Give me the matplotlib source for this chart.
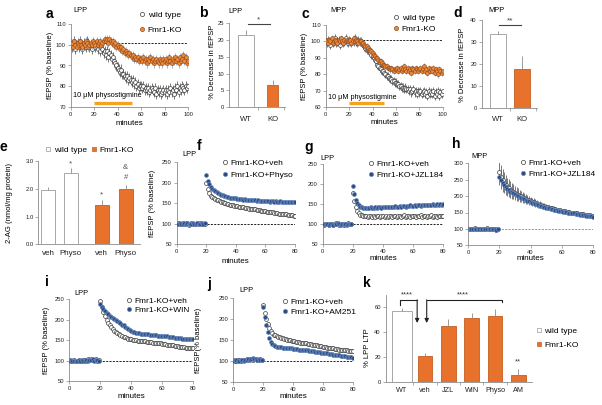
import numpy as np
import matplotlib
matplotlib.use('Agg')
import matplotlib.pyplot as plt
from matplotlib.lines import Line2D

plt.rcParams['font.family'] = ['Liberation Sans', 'DejaVu Sans']

# ---------------- data ----------------
# a: LPP, physostigmine wash-in (% baseline), 1 point per minute 0..100
wt_a = [101, 99, 100, 102, 98, 100, 101, 99, 102, 100,
        98, 101, 100, 99, 102, 101, 99, 100, 98, 101,
        100, 99, 101, 98, 100, 97, 99, 98, 96, 97,
        95, 97, 94, 96, 95, 93, 94, 92, 91, 90,
        89, 88, 87, 88, 86, 86, 85, 84, 85, 83,
        84, 83, 82, 83, 81, 82, 80, 81, 79, 80,
        80, 79, 80, 78, 79, 78, 79, 77, 78, 79,
        78, 77, 79, 76, 78, 77, 78, 76, 77, 78,
        77, 78, 76, 78, 77, 79, 77, 78, 76, 79,
        78, 80, 77, 79, 78, 80, 79, 78, 80, 79,
        80]
ko_a = [100, 101, 99, 102, 100, 99, 101, 100, 102, 100,
        99, 101, 100, 102, 101, 99, 100, 101, 100, 102,
        101, 100, 102, 100, 101, 102, 100, 101, 102, 103,
        102, 103, 101, 103, 102, 101, 102, 100, 101, 99,
        100, 99, 98, 99, 97, 98, 96, 97, 96, 95,
        96, 95, 94, 95, 93, 94, 93, 94, 92, 93,
        93, 92, 94, 92, 93, 91, 93, 92, 94, 92,
        93, 91, 92, 93, 92, 91, 93, 92, 91, 93,
        92, 93, 91, 92, 94, 92, 91, 93, 92, 94,
        92, 93, 91, 94, 92, 93, 95, 92, 94, 91,
        92]
# c: MPP
wt_c = [100, 99, 101, 100, 98, 101, 99, 100, 102, 99,
        100, 101, 98, 100, 101, 99, 100, 102, 100, 99,
        101, 100, 99, 101, 100, 102, 100, 99, 101, 100,
        100, 99, 98, 97, 96, 95, 95, 94, 93, 92,
        91, 90, 89, 88, 86, 85, 84, 83, 82, 82,
        81, 80, 79, 79, 78, 77, 77, 76, 76, 75,
        75, 74, 74, 73, 73, 72, 72, 71, 72, 71,
        71, 70, 71, 69, 70, 71, 69, 70, 68, 70,
        69, 70, 68, 69, 70, 68, 69, 67, 70, 68,
        69, 68, 70, 67, 69, 68, 70, 67, 69, 68,
        70]
ko_c = [101, 100, 99, 101, 100, 102, 99, 100, 101, 100,
        99, 101, 100, 102, 100, 99, 101, 100, 101, 100,
        100, 101, 99, 100, 102, 100, 101, 100, 99, 100,
        100, 99, 99, 98, 97, 97, 96, 95, 95, 94,
        93, 92, 91, 90, 90, 89, 88, 88, 87, 86,
        86, 85, 85, 84, 84, 83, 84, 83, 82, 83,
        83, 84, 82, 83, 84, 82, 83, 85, 83, 82,
        84, 82, 83, 81, 84, 83, 82, 84, 83, 82,
        83, 84, 82, 83, 85, 82, 83, 81, 84, 82,
        83, 82, 84, 81, 83, 82, 80, 83, 82, 81,
        82]

# b, d: % decrease in fEPSP
dec_groups = ['WT', 'KO']
dec_lpp = [21.5, 6.5]
dec_lpp_err = [1.5, 1.6]
dec_mpp = [33.5, 17.8]
dec_mpp_err = [1.7, 6.0]

# e: 2-AG levels
ag_groups = ['veh', 'Physo', 'veh', 'Physo']
ag_vals = [1.97, 2.58, 1.43, 2.00]
ag_err = [0.10, 0.15, 0.15, 0.14]

# f-j: LTP time courses, 1 point per minute 0..80
f_veh = [100, 101, 99, 100, 102, 99, 100, 101, 98, 100,
         101, 99, 100, 100, 102, 99, 101, 100, 99, 100,
         200, 185, 175, 168, 165, 162, 160, 158, 157, 155,
         154, 153, 151, 150, 149, 148, 147, 146, 145, 144,
         143, 143, 142, 141, 140, 140, 139, 138, 138, 137,
         137, 136, 135, 135, 134, 133, 133, 132, 132, 131,
         131, 130, 130, 129, 128, 128, 127, 127, 126, 125,
         125, 124, 124, 123, 123, 122, 122, 121, 121, 120,
         120]
f_physo = [99, 100, 101, 100, 99, 101, 100, 102, 100, 99,
           100, 101, 99, 100, 101, 100, 99, 101, 100, 101,
           218, 205, 196, 190, 186, 183, 180, 178, 175, 173,
           171, 170, 168, 167, 166, 165, 164, 163, 163, 162,
           162, 161, 161, 160, 160, 159, 160, 159, 158, 158,
           158, 157, 158, 157, 156, 157, 156, 156, 155, 156,
           155, 156, 155, 154, 155, 155, 154, 155, 154, 154,
           155, 154, 153, 154, 154, 153, 154, 153, 154, 153,
           153]
g_veh = [100, 99, 101, 100, 98, 100, 101, 99, 100, 102,
         100, 99, 101, 100, 99, 101, 100, 102, 100, 101,
         178, 158, 142, 133, 127, 124, 122, 121, 120, 121,
         119, 120, 121, 119, 120, 118, 120, 121, 119, 120,
         121, 119, 120, 118, 121, 120, 119, 121, 120, 118,
         120, 121, 119, 120, 122, 119, 120, 121, 119, 120,
         121, 120, 119, 121, 120, 122, 119, 121, 120, 119,
         121, 120, 122, 119, 121, 120, 119, 121, 120, 121,
         120]
g_jzl = [99, 100, 101, 100, 99, 101, 100, 99, 101, 100,
         102, 100, 99, 101, 100, 101, 99, 100, 101, 100,
         195, 175, 160, 152, 147, 144, 142, 141, 140, 140,
         141, 140, 142, 141, 140, 142, 141, 143, 142, 141,
         142, 143, 142, 144, 143, 142, 144, 143, 145, 144,
         143, 145, 144, 146, 145, 144, 146, 145, 147, 146,
         145, 147, 146, 148, 147, 146, 148, 147, 149, 148,
         147, 149, 148, 150, 149, 148, 150, 149, 150, 149,
         150]
h_veh = [100, 101, 99, 100, 102, 100, 99, 101, 100, 99,
         101, 100, 102, 99, 100, 101, 99, 100, 98, 100,
         272, 258, 248, 240, 234, 228, 224, 220, 216, 213,
         210, 207, 204, 201, 199, 196, 194, 191, 189, 187,
         185, 183, 181, 179, 177, 175, 174, 172, 171, 169,
         168, 166, 165, 164, 163, 162, 160, 159, 158, 157,
         156, 155, 154, 153, 152, 151, 150, 150, 149, 148,
         147, 146, 146, 145, 144, 143, 143, 142, 141, 140,
         139]
h_veh_sem = [2, 2, 2, 2, 2, 2, 2, 2, 2, 2, 2, 2, 2, 2, 2, 2, 2, 2, 2, 2,
             38, 36, 34, 32, 30, 28, 27, 25, 24, 23, 22, 21, 20, 19, 18, 17, 16, 15, 14, 13,
             13, 12, 12, 11, 11, 10, 10, 9, 9, 9, 8, 8, 8, 7, 7, 7, 7, 6, 6, 6,
             6, 6, 5, 5, 5, 5, 5, 5, 5, 5, 5, 4, 4, 4, 4, 4, 4, 4, 4, 4, 4]
h_jzl = [99, 100, 101, 100, 99, 100, 101, 100, 99, 101,
         100, 99, 100, 101, 100, 99, 100, 101, 97, 99,
         258, 248, 240, 233, 228, 223, 218, 214, 211, 208,
         205, 202, 199, 197, 195, 193, 190, 188, 186, 184,
         182, 180, 178, 176, 175, 173, 171, 170, 168, 167,
         165, 164, 163, 161, 160, 159, 158, 157, 156, 155,
         154, 153, 152, 151, 150, 149, 148, 147, 147, 146,
         145, 144, 143, 143, 142, 141, 140, 139, 139, 138,
         136]
i_veh = [101, 100, 99, 102, 100, 98, 101, 100, 99, 101,
         102, 100, 103, 101, 104, 102, 101, 103, 100, 102,
         245, 230, 218, 208, 200, 193, 187, 182, 177, 173,
         170, 167, 164, 162, 160, 158, 157, 155, 154, 153,
         152, 151, 150, 150, 149, 149, 148, 148, 147, 147,
         146, 146, 145, 145, 144, 144, 143, 143, 142, 142,
         141, 141, 140, 139, 139, 138, 137, 137, 136, 135,
         135, 134, 134, 133, 133, 132, 132, 131, 131, 130,
         130]
i_win = [100, 101, 99, 100, 98, 100, 102, 99, 101, 100,
         99, 101, 100, 102, 101, 103, 100, 102, 101, 100,
         238, 232, 226, 221, 217, 213, 210, 207, 205, 202,
         200, 197, 194, 191, 188, 186, 183, 180, 178, 175,
         172, 170, 169, 168, 167, 167, 166, 165, 165, 164,
         164, 164, 163, 163, 162, 162, 162, 161, 161, 160,
         160, 160, 159, 159, 158, 158, 157, 157, 156, 156,
         156, 155, 155, 154, 154, 154, 153, 153, 152, 152,
         152]
j_veh = [101, 100, 99, 101, 102, 100, 101, 103, 102, 104,
         103, 105, 104, 103, 105, 104, 103, 102, 104, 103,
         235, 215, 200, 188, 178, 171, 166, 163, 161, 159,
         158, 156, 155, 154, 153, 152, 151, 150, 149, 148,
         148, 147, 146, 146, 145, 144, 144, 143, 142, 142,
         141, 140, 140, 139, 138, 138, 137, 136, 136, 135,
         134, 134, 133, 132, 132, 131, 130, 130, 129, 128,
         128, 127, 127, 126, 126, 125, 125, 124, 124, 124,
         123]
j_am = [100, 102, 101, 99, 100, 101, 102, 100, 103, 102,
        104, 103, 105, 106, 104, 105, 103, 104, 102, 103,
        228, 205, 185, 168, 155, 146, 140, 137, 135, 134,
        134, 133, 133, 132, 132, 131, 131, 130, 130, 130,
        129, 129, 128, 128, 127, 127, 127, 126, 126, 125,
        125, 124, 124, 123, 123, 122, 122, 121, 121, 120,
        120, 119, 118, 118, 117, 116, 116, 115, 114, 114,
        113, 113, 112, 112, 111, 111, 110, 110, 109, 109,
        108]

# k: % LPP LTP
ltp_groups = ['WT', 'veh', 'JZL', 'WIN', 'Physo', 'AM']
ltp_vals = [56.8, 20.5, 45.0, 51.8, 53.2, 5.5]
ltp_err = [3.0, 2.5, 6.0, 3.5, 5.5, 4.5]

# ---------------- style ----------------
W, H = 602, 405
ORANGE = '#E8722C'
ORANGE_EDGE = '#C25E22'
BAR_EDGE = '#9A9A9A'
AXIS_GRAY = '#8A8A8A'
NAVY = '#2B4A7E'
NAVY_EDGE = '#6C8DC4'
PHYSO_BAR = '#F6A21E'

fig = plt.figure(figsize=(W / 100, H / 100), dpi=100)


def add_ax(l, t, r, b):
    # axes box given in pixel coordinates (left, top, right, bottom)
    return fig.add_axes([l / W, 1 - b / H, (r - l) / W, (b - t) / H])


def ftext(x, y, s, **kw):
    fig.text(x / W, 1 - y / H, s, **kw)


def style(ax):
    for s in ['top', 'right']:
        ax.spines[s].set_visible(False)
    for s in ['left', 'bottom']:
        ax.spines[s].set_color(AXIS_GRAY)
        ax.spines[s].set_linewidth(0.6)
    ax.tick_params(length=2, width=0.5, color=AXIS_GRAY, labelsize=4.2,
                   pad=1.5, labelcolor='#222222')
    ax.patch.set_alpha(0)


def trace(ax, x, y, sem, kind, z):
    if kind == 'open':
        kw = dict(mfc='white', mec='#3C3C3C', ecolor='#444444')
    elif kind == 'navy':
        kw = dict(mfc=NAVY, mec=NAVY_EDGE, ecolor='#3A4A66')
    else:
        kw = dict(mfc='#EC8A3A', mec='#9A4E1E', ecolor='#7F96B8')
    ax.errorbar(x, y, yerr=sem, fmt='o', ms=2.8, mew=0.5, elinewidth=0.5,
                capsize=0, zorder=z, **kw)


def legend(ax, handles, labels, x, y, spacing, **kw):
    ax.legend(handles, labels, loc='upper left',
              bbox_to_anchor=(x / W, 1 - y / H), bbox_transform=fig.transFigure,
              frameon=False, fontsize=6, handlelength=0.7, handletextpad=0.3,
              labelspacing=spacing, borderpad=0, borderaxespad=0, **kw)


def h_open():
    return Line2D([], [], marker='o', ls='none', ms=3, mfc='white', mec='#3C3C3C', mew=0.5)


def h_navy():
    return Line2D([], [], marker='o', ls='none', ms=3, mfc=NAVY, mec=NAVY_EDGE, mew=0.5)


def h_orange():
    return Line2D([], [], marker='o', ls='none', ms=3, mfc='#EC8A3A', mec='#9A4E1E', mew=0.5)


def h_sq(color, edge):
    return Line2D([], [], marker='s', ls='none', ms=3.5, mfc=color, mec=edge, mew=0.5)


LETTER = dict(size=10, weight='bold', ha='center', va='center')
TITLE = dict(size=5.3, ha='center', va='center')
YLAB = dict(size=5.5, ha='center', va='center', rotation=90)
XLAB = dict(size=5.8, ha='center', va='center')

t100 = np.arange(len(wt_a))
t80 = np.arange(len(f_veh))

# ---------------- a ----------------
ax = add_ax(70.7, 24.3, 188, 106.7)
style(ax)
ax.plot([0, 100], [101, 101], 'k--', lw=0.6, dashes=(2.5, 1.5), zorder=1)
trace(ax, t100, wt_a, 2.5, 'open', 2)
trace(ax, t100, ko_a, 2.0, 'orange', 3)
ax.plot([20, 52], [72, 72], color=PHYSO_BAR, lw=2.3, solid_capstyle='butt', zorder=4)
ax.text(2, 75.2, '10 \u03bcM physostigmine', size=5.2, va='center', zorder=5)
ax.set_xlim(0, 100)
ax.set_ylim(70, 110)
ax.set_xticks([0, 20, 40, 60, 80, 100])
ax.set_yticks([70, 80, 90, 100, 110])
legend(ax, [h_open(), h_orange()], ['wild type', 'Fmr1-KO'], 139.5, 11.5, 0.8)
ftext(49, 14, 'a', **LETTER)
ftext(80.3, 11, 'LPP', **TITLE)
ftext(50, 65.5, 'fEPSP (% baseline)', **YLAB)
ftext(129.3, 123.3, 'minutes', **XLAB)

# ---------------- c ----------------
ax = add_ax(325.7, 25, 442.7, 107.3)
style(ax)
ax.plot([0, 100], [101, 101], 'k--', lw=0.6, dashes=(2.5, 1.5), zorder=1)
trace(ax, t100, wt_c, 2.5, 'open', 2)
trace(ax, t100, ko_c, 2.0, 'orange', 3)
ax.plot([20, 50], [62.5, 62.5], color=PHYSO_BAR, lw=2.3, solid_capstyle='butt', zorder=4)
ax.text(2, 66, '10 \u03bcM physostigmine', size=5.2, va='center', zorder=5)
ax.set_xlim(0, 100)
ax.set_ylim(60, 110)
ax.set_xticks([0, 20, 40, 60, 80, 100])
ax.set_yticks([60, 70, 80, 90, 100, 110])
legend(ax, [h_open(), h_orange()], ['wild type', 'Fmr1-KO'], 393.5, 14.5, 0.37)
ftext(305, 13.7, 'c', **LETTER)
ftext(338.3, 11, 'MPP', **TITLE)
ftext(304, 66, 'fEPSP (% baseline)', **YLAB)
ftext(384, 122.7, 'minutes', **XLAB)


def bar_panel(ax, vals, errs, colors, edges, widths, labels, lab_size, minor):
    pos = np.arange(len(vals))
    ax.bar(pos, vals, width=widths, color=colors, edgecolor=edges,
           linewidth=0.6, zorder=2)
    ax.errorbar(pos, vals, yerr=[[0] * len(vals), errs], fmt='none',
                ecolor='#8A8A8A', elinewidth=0.6, capsize=0, zorder=3)
    ax.set_xticks(pos)
    ax.set_xticklabels(labels, size=lab_size)
    ax.tick_params(axis='x', length=0, pad=6)
    ax.set_xticks(minor, minor=True)
    ax.tick_params(axis='x', which='minor', length=2, width=0.5, color=AXIS_GRAY)
    return pos


# ---------------- b ----------------
ax = add_ax(229, 23.3, 285, 107.3)
style(ax)
bar_panel(ax, dec_lpp, dec_lpp_err, ['white', ORANGE], [BAR_EDGE, ORANGE_EDGE],
          [0.6, 0.43], dec_groups, 5.5, [0.47, 1.44])
ax.set_xlim(-0.623, 1.466)
ax.set_ylim(0, 25)
ax.set_yticks([0, 5, 10, 15, 20, 25])
ax.plot([0.075, 0.907], [24.8, 24.8], color='#444444', lw=0.8, clip_on=False)
ax.text(0.49, 26.0, '*', size=6, ha='center', va='center', color='#444444')
ftext(203, 13, 'b', **LETTER)
ftext(235.7, 11.7, 'LPP', **TITLE)
ftext(213, 62, '% Decrease in fEPSP', **YLAB)

# ---------------- d ----------------
ax = add_ax(481.7, 20, 536.7, 107.7)
style(ax)
bar_panel(ax, dec_mpp, dec_mpp_err, ['white', ORANGE], [BAR_EDGE, ORANGE_EDGE],
          [0.65, 0.66], dec_groups, 5.5, [0.5, 1.57])
ax.set_xlim(-0.665, 1.607)
ax.set_ylim(0, 40)
ax.set_yticks([0, 10, 20, 30, 40])
ax.plot([0.05, 0.96], [37.8, 37.8], color='#444444', lw=0.8, clip_on=False)
ax.text(0.5, 39.8, '**', size=6, ha='center', va='center', color='#444444')
ftext(458, 13.3, 'd', **LETTER)
ftext(496.5, 10, 'MPP', **TITLE)
ftext(463, 65, '% Decrease in fEPSP', **YLAB)

# ---------------- e ----------------
ax = add_ax(38.3, 161, 140, 244.3)
style(ax)
e_pos = np.array([0, 0.97, 2.32, 3.37])
ax.bar(e_pos, ag_vals, width=0.61, color=['white', 'white', ORANGE, ORANGE],
       edgecolor=[BAR_EDGE, BAR_EDGE, ORANGE_EDGE, ORANGE_EDGE], linewidth=0.6, zorder=2)
ax.errorbar(e_pos, ag_vals, yerr=[[0] * 4, ag_err], fmt='none', ecolor='#8A8A8A',
            elinewidth=0.6, capsize=0, zorder=3)
ax.set_xticks(e_pos)
ax.set_xticklabels(ag_groups, size=5.8)
ax.tick_params(axis='x', length=0, pad=4)
ax.set_xlim(-0.435, 3.99)
ax.set_ylim(0, 3.0)
ax.set_yticks([0, 1, 2, 3])
ax.set_yticklabels(['0.0', '1.0', '2.0', '3.0'])
ax.text(e_pos[1], ag_vals[1] + ag_err[1] + 0.17, '*', size=6, ha='center', va='center',
        color='#555555', clip_on=False)
ax.text(e_pos[2], ag_vals[2] + ag_err[2] + 0.2, '*', size=6, ha='center', va='center',
        color='#555555')
ax.text(e_pos[3], ag_vals[3] + ag_err[3] + 0.25, '#', size=5.5, ha='center', va='center',
        color='#555555')
ax.text(e_pos[3], ag_vals[3] + ag_err[3] + 0.63, '&', size=5.5, ha='center', va='center',
        color='#555555')
ax.legend([h_sq('white', BAR_EDGE), h_sq(ORANGE, ORANGE_EDGE)], ['wild type', 'Fmr1-KO'],
          loc='upper left', bbox_to_anchor=(45.2 / W, 1 - 146.5 / H),
          bbox_transform=fig.transFigure, frameon=False, fontsize=6, handlelength=0.7,
          handletextpad=0.3, ncol=2, columnspacing=0.5, borderpad=0, borderaxespad=0)
ftext(3.5, 146.7, 'e', **LETTER)
ftext(10, 203, '2-AG (nmol/mg protein)', **YLAB)


def ltp_panel(box, veh, drug, veh_sem, drug_sem, ytop, yticks, dash_color):
    ax = add_ax(*box)
    style(ax)
    ax.plot([0, 80], [100, 100], '--', color=dash_color, lw=0.6, dashes=(2.5, 1.5), zorder=1)
    trace(ax, t80, veh, veh_sem, 'open', 2)
    trace(ax, t80, drug, drug_sem, 'navy', 3)
    ax.set_xlim(0, 80)
    ax.set_ylim(50, ytop)
    ax.set_xticks([0, 20, 40, 60, 80])
    ax.set_yticks(yticks)
    return ax


LTP_TICKS = [50, 100, 150, 200, 250]

# ---------------- f ----------------
ax = ltp_panel((176.7, 162.3, 295, 244.3), f_veh, f_physo, 2.5, 2.5, 250, LTP_TICKS, 'k')
legend(ax, [h_open(), h_navy()], ['Fmr1-KO+veh', 'Fmr1-KO+Physo'], 221.9, 159.5, 0.44)
ftext(199, 146, 'f', **LETTER)
ftext(189, 155, 'LPP', **TITLE)
ftext(152, 203, 'fEPSP (% baseline)', **YLAB)
ftext(235.8, 261.7, 'minutes', **XLAB)

# ---------------- g ----------------
ax = ltp_panel((322.7, 164, 443.3, 244.3), g_veh, g_jzl, 5, 5, 250, LTP_TICKS, 'k')
legend(ax, [h_open(), h_navy()], ['Fmr1-KO+veh', 'Fmr1-KO+JZL184'], 368.3, 160.5, 0.35)
ftext(309, 146.7, 'g', **LETTER)
ftext(327, 158.3, 'LPP', **TITLE)
ftext(383, 258.3, 'minutes', **XLAB)

# ---------------- h ----------------
ax = ltp_panel((468.3, 163.3, 592.7, 245.3), h_veh, h_jzl, h_veh_sem, 4, 300,
               [50, 100, 150, 200, 250, 300], '#888888')
legend(ax, [h_open(), h_navy()], ['Fmr1-KO+veh', 'Fmr1-KO+JZL184'], 519.9, 159.5, 0.29)
ftext(456.7, 144, 'h', **LETTER)
ftext(480, 156.7, 'MPP', **TITLE)
ftext(530.5, 259, 'minutes', **XLAB)

# ---------------- i ----------------
ax = ltp_panel((69.3, 299.3, 193.3, 381), i_veh, i_win, 3.5, 3, 250, LTP_TICKS, 'k')
legend(ax, [h_open(), h_navy()], ['Fmr1-KO+veh', 'Fmr1-KO+WIN'], 125.9, 297, 0.17)
ftext(46.7, 282, 'i', **LETTER)
ftext(81.7, 293.3, 'LPP', **TITLE)
ftext(46.7, 340, 'fEPSP (% baseline)', **YLAB)
ftext(131.3, 396, 'minutes', **XLAB)

# ---------------- j ----------------
ax = ltp_panel((233.3, 298.3, 352.7, 381.7), j_veh, j_am, 3, 3, 250, LTP_TICKS, 'k')
legend(ax, [h_open(), h_navy()], ['Fmr1-KO+veh', 'Fmr1-KO+AM251'], 281.6, 297.8, 0.29)
ftext(209, 284, 'j', **LETTER)
ftext(246.7, 290, 'LPP', **TITLE)
ftext(198, 340, 'fEPSP(% baseline)', **YLAB)
ftext(293, 396, 'minutes', **XLAB)

# ---------------- k ----------------
ax = add_ax(385.7, 295, 531.7, 381.7)
style(ax)
k_pos = np.arange(len(ltp_vals))
k_colors = ['white'] + [ORANGE] * 5
k_edges = [BAR_EDGE] + [ORANGE_EDGE] * 5
k_widths = [0.86, 0.63, 0.63, 0.63, 0.63, 0.63]
ax.bar(k_pos, ltp_vals, width=k_widths, color=k_colors, edgecolor=k_edges,
       linewidth=0.6, zorder=2)
ax.errorbar(k_pos, ltp_vals, yerr=[[0] * 6, ltp_err], fmt='none', ecolor='#8A8A8A',
            elinewidth=0.6, capsize=0, zorder=3)
ax.set_xticks(k_pos)
ax.set_xticklabels(ltp_groups, size=5.2)
ax.tick_params(axis='x', length=0, pad=3.5)
ax.set_xticks(k_pos[:-1] + 0.5, minor=True)
ax.tick_params(axis='x', which='minor', length=2, width=0.5, color=AXIS_GRAY)
ax.set_xlim(-0.69, 5.575)
ax.set_ylim(0, 70)
ax.set_yticks([0, 20, 40, 60])
BR = '#222222'
# significance brackets with arrows pointing at the veh bar
ax.plot([-0.08, -0.08, 0.66], [62, 65.7, 65.7], color=BR, lw=0.8, clip_on=False)
ax.annotate('', xy=(0.66, 47.4), xytext=(0.66, 66.05),
            arrowprops=dict(arrowstyle='-|>', lw=0.8, color=BR, mutation_scale=6,
                            shrinkA=0, shrinkB=0))
ax.plot([4.29, 4.29, 1.07], [64, 65.7, 65.7], color=BR, lw=0.8, clip_on=False)
ax.annotate('', xy=(1.07, 47.4), xytext=(1.07, 66.05),
            arrowprops=dict(arrowstyle='-|>', lw=0.8, color=BR, mutation_scale=6,
                            shrinkA=0, shrinkB=0))
ax.text(0.21, 70.2, '****', size=5.5, ha='center', va='center', color='#333333')
ax.text(2.61, 70.2, '****', size=5.5, ha='center', va='center', color='#333333')
ax.text(k_pos[5], ltp_vals[5] + ltp_err[5] + 6, '**', size=5.5, ha='center',
        va='center', color='#333333')
legend(ax, [h_sq('white', BAR_EDGE), h_sq(ORANGE, ORANGE_EDGE)], ['wild type', 'Fmr1-KO'],
       535.9, 327, 0.77)
ftext(366.7, 283.3, 'k', **LETTER)
ftext(367, 348, '% LPP LTP', **YLAB)

fig.savefig('out.png', dpi=100, facecolor='white')
